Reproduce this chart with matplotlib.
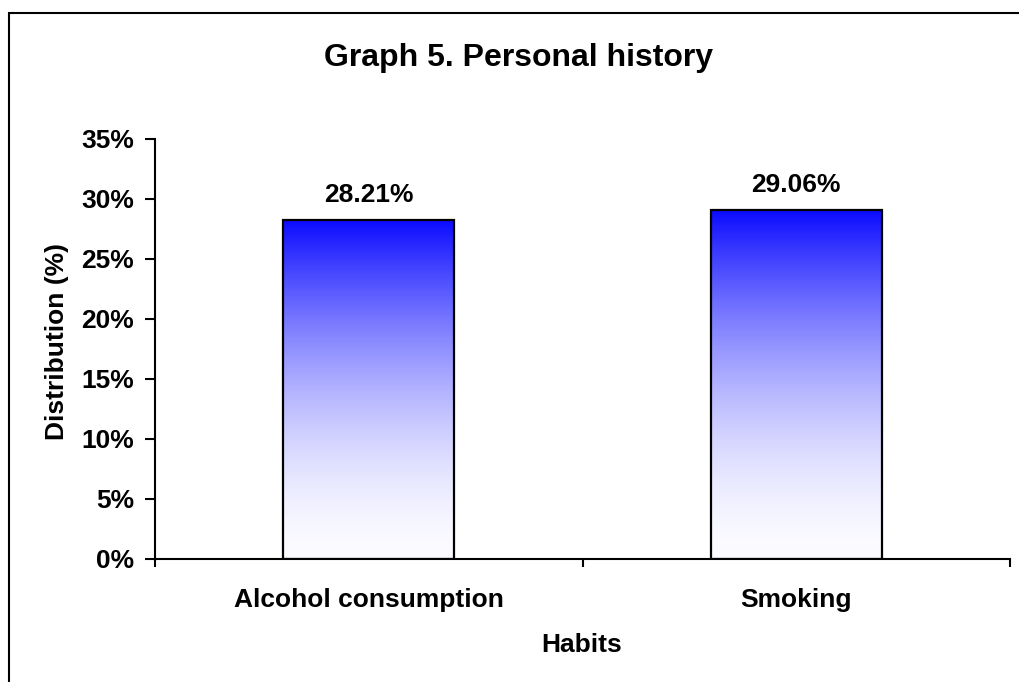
import numpy as np
import matplotlib
matplotlib.use("Agg")
import matplotlib.pyplot as plt
from matplotlib.patches import Rectangle
from matplotlib.colors import LinearSegmentedColormap
from matplotlib.ticker import FixedLocator, FuncFormatter

categories = ["Alcohol consumption", "Smoking"]
values = [28.21, 29.06]
value_labels = ["28.21%", "29.06%"]
yticks = [0, 5, 10, 15, 20, 25, 30, 35]
title = "Graph 5. Personal history"
xlabel = "Habits"
ylabel = "Distribution (%)"

plt.rcParams['font.family'] = ['Liberation Sans', 'DejaVu Sans']
FS = 19
W, H = 1019, 682
fig = plt.figure(figsize=(W / 100, H / 100), dpi=100)
ax = fig.add_axes([155 / W, 1 - 559 / H, (1010 - 155) / W, (559 - 139) / H])

x = np.arange(len(categories))
bars = ax.bar(x, values, width=0.4, facecolor='none', edgecolor='black',
              linewidth=1.6, zorder=3)

cmap = LinearSegmentedColormap.from_list("bw", ["#fbfbff", "#0c0cff"])
grad = (np.linspace(0, 1, 512) ** 1.7).reshape(-1, 1)
for b in bars:
    x0, w, h = b.get_x(), b.get_width(), b.get_height()
    im = ax.imshow(grad, extent=[x0, x0 + w, 0, h], origin='lower',
                   cmap=cmap, vmin=0, vmax=1, aspect='auto', zorder=2,
                   interpolation='bicubic')
    im.set_clip_path(b)

for b, lab in zip(bars, value_labels):
    ax.annotate(lab, (b.get_x() + b.get_width() / 2, b.get_height()),
                xytext=(0, 13), textcoords='offset points', ha='center',
                va='baseline', fontsize=FS, fontweight='bold')

ax.set_xlim(-0.5, len(categories) - 0.5)
ax.set_ylim(0, 35)
ax.set_yticks(yticks)
ax.yaxis.set_major_formatter(FuncFormatter(lambda v, p: f"{int(v)}%"))
ax.xaxis.set_major_locator(FixedLocator(np.arange(len(categories) + 1) - 0.5))
ax.xaxis.set_major_formatter(FuncFormatter(lambda v, p: ""))
ax.xaxis.set_minor_locator(FixedLocator(x))
ax.set_xticklabels(categories, minor=True)
ax.tick_params(axis='x', which='major', length=6, width=1.5, direction='out')
ax.tick_params(axis='x', which='minor', length=0, pad=21)
ax.tick_params(axis='y', length=7, width=1.5, direction='out', pad=8)
for lab in ax.get_xticklabels(minor=True) + ax.get_yticklabels():
    lab.set_fontsize(FS)
    lab.set_fontweight('bold')

for s in ['top', 'right']:
    ax.spines[s].set_visible(False)
for s in ['left', 'bottom']:
    ax.spines[s].set_linewidth(1.5)

fig.text(519 / W, 1 - 58 / H, title, ha='center', va='center',
         fontsize=23, fontweight='bold')
fig.text(582 / W, 1 - 645 / H, xlabel, ha='center', va='center',
         fontsize=FS, fontweight='bold')
fig.text(57 / W, 1 - 342 / H, ylabel, ha='center', va='center', rotation=90,
         fontsize=FS, fontweight='bold')

fig.patches.append(Rectangle((9 / W, -0.1), 1.2, 1.1 - 13 / H,
                             transform=fig.transFigure, fill=False,
                             edgecolor='black', linewidth=1.5, clip_on=False))

fig.savefig("out.png", dpi=100)
